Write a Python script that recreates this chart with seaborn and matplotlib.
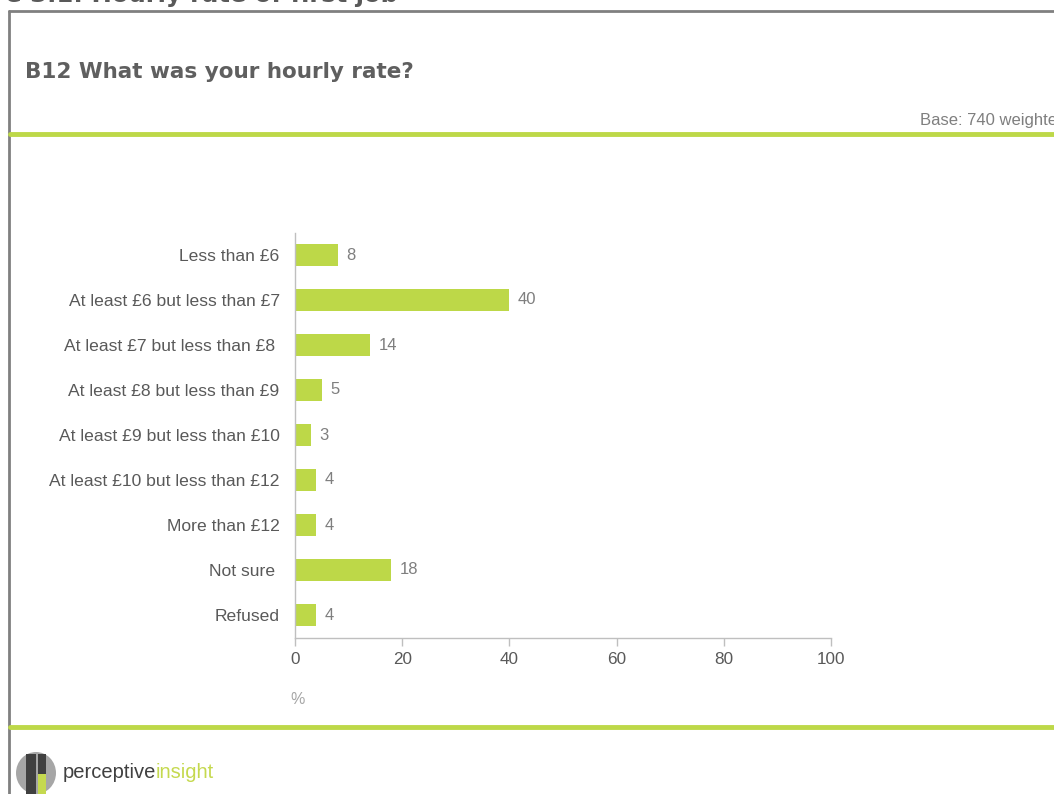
import matplotlib
matplotlib.use("Agg")
import matplotlib.pyplot as plt
from matplotlib.patches import Rectangle, Ellipse
from matplotlib.lines import Line2D
import seaborn as sns
import pandas as pd

# Survey responses: hourly rate of first job
categories = [
    "Less than £6",
    "At least £6 but less than £7",
    "At least £7 but less than £8 ",
    "At least £8 but less than £9",
    "At least £9 but less than £10",
    "At least £10 but less than £12",
    "More than £12",
    "Not sure ",
    "Refused",
]
percentages = [8, 40, 14, 5, 3, 4, 4, 18, 4]
x_ticks = [0, 20, 40, 60, 80, 100]

df = pd.DataFrame({"answer": categories, "pct": percentages})

sns.set_theme(style="white")
plt.rcParams["font.family"] = ["Liberation Sans", "DejaVu Sans"]

GREEN = "#BDD848"
GREY_TXT = "#595959"
AXIS_GREY = "#BFBFBF"

W, H = 1054, 794
fig = plt.figure(figsize=(W / 100, H / 100), dpi=100)
fig.patch.set_facecolor("white")


def fx(px):
    return px / W


def fy(py):
    return 1 - py / H


ax = fig.add_axes([fx(295), fy(637.5), fx(831) - fx(295), fy(232.5) - fy(637.5)])

sns.barplot(data=df, x="pct", y="answer", orient="h", color=GREEN,
            width=0.49, saturation=1, ax=ax, edgecolor="none")

ax.set_xlim(0, 100)
ax.set_ylim(len(categories) - 0.5, -0.5)
ax.set_xticks(x_ticks)
ax.set_xticklabels([str(t) for t in x_ticks])
ax.set_xlabel("")
ax.set_ylabel("")
for side in ["top", "right"]:
    ax.spines[side].set_visible(False)
for side in ["left", "bottom"]:
    ax.spines[side].set_color(AXIS_GREY)
    ax.spines[side].set_linewidth(1.0)
ax.tick_params(axis="x", which="both", bottom=True, length=6, width=1,
               color=AXIS_GREY, labelsize=12.3, labelcolor=GREY_TXT, pad=4.5)
ax.tick_params(axis="y", which="both", left=False, length=0,
               labelsize=12.6, labelcolor=GREY_TXT, pad=11)

for i, v in enumerate(percentages):
    ax.text(v + 1.6, i, str(v), va="center", ha="left", fontsize=12,
            color="#7F7F7F")

# axis unit label
fig.text(fx(298), fy(700), "%", fontsize=11.5, color="#A6A6A6",
         ha="center", va="center")

# frame of the slide
fig.add_artist(Line2D([fx(9), fx(9)], [fy(11), 0], color="#808080", lw=2))
fig.add_artist(Line2D([fx(9), 1], [fy(11), fy(11)], color="#808080", lw=2))

# green separators
fig.add_artist(Line2D([fx(10), 1], [fy(134), fy(134)], color=GREEN, lw=3.5))
fig.add_artist(Line2D([fx(10), 1], [fy(727), fy(727)], color=GREEN, lw=3.5))

# figure caption, partly above the canvas
fig.text(fx(398), fy(2), "Figure 3.1: Hourly rate of first job", ha="right",
         va="baseline", fontsize=17.5, fontweight="bold", color="#595959",
         family=["DejaVu Sans"])

# question title
fig.text(fx(25), fy(72), "B12 What was your hourly rate?", ha="left",
         va="center", fontsize=15.5, fontweight="bold", color="#5F5F5F",
         family=["DejaVu Sans"])

# base note
fig.text(fx(920), fy(121), "Base: 740 weighted", ha="left", va="center",
         fontsize=12, color="#7F7F7F")

# logo mark
fig.add_artist(Ellipse((fx(36), fy(773)), fx(40), 42 / H,
                       facecolor="#A6A6A6", edgecolor="none"))
fig.add_artist(Rectangle((fx(26), fy(794)), fx(10), 40 / H,
                         facecolor="#404040", edgecolor="none"))
fig.add_artist(Rectangle((fx(38), fy(794)), fx(8), 22 / H,
                         facecolor="#C5D94F", edgecolor="none"))
fig.add_artist(Rectangle((fx(38), fy(774)), fx(8), 20 / H,
                         facecolor="#404040", edgecolor="none"))
fig.text(fx(63), fy(772), "perceptive", ha="left", va="center",
         fontsize=14.5, color="#404040")
fig.text(fx(156), fy(772), "insight", ha="left", va="center",
         fontsize=14.5, color="#C5D94F")

fig.savefig("out.png", dpi=100, facecolor="white")
